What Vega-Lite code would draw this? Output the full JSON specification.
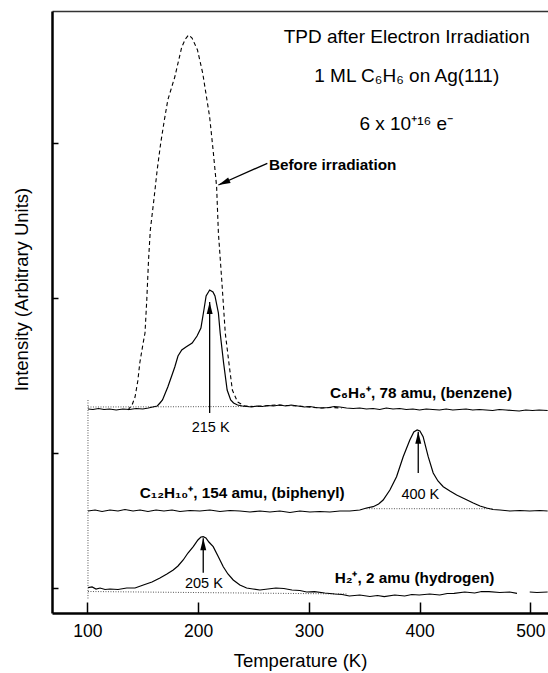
{
  "$schema": "https://vega.github.io/schema/vega-lite/v6.json",
  "width": 496,
  "height": 602,
  "autosize": {"type": "none"},
  "padding": {"left": 52, "top": 11, "right": 0, "bottom": 60},
  "background": "white",
  "config": {
    "view": {"stroke": null},
    "font": "Liberation Sans",
    "axis": {"labelFont": "Liberation Sans", "titleFont": "Liberation Sans", "labelColor": "black", "titleColor": "black", "domainColor": "black", "tickColor": "black", "grid": false}
  },
  "resolve": {"axis": {"x": "independent", "y": "independent"}},
  "datasets": {
    "traces": [
      {"trace": "ref_v", "T": 100.5, "I": 213}, {"trace": "ref_v", "T": 100.5, "I": 13},
      {"trace": "ref_benzene", "T": 100.5, "I": 206}, {"trace": "ref_benzene", "T": 255, "I": 206.5},
      {"trace": "ref_biphenyl", "T": 352, "I": 104.3}, {"trace": "ref_biphenyl", "T": 466, "I": 104.3},
      {"trace": "ref_hydrogen", "T": 100.5, "I": 21.5}, {"trace": "ref_hydrogen", "T": 335, "I": 19},

      {"trace": "before", "T": 136.6, "I": 203}, {"trace": "before", "T": 140.3, "I": 208}, {"trace": "before", "T": 143, "I": 216},
      {"trace": "before", "T": 145.5, "I": 232}, {"trace": "before", "T": 147.3, "I": 250}, {"trace": "before", "T": 150, "I": 268},
      {"trace": "before", "T": 152, "I": 280}, {"trace": "before", "T": 153.6, "I": 313}, {"trace": "before", "T": 155.2, "I": 353},
      {"trace": "before", "T": 156.8, "I": 383}, {"trace": "before", "T": 160, "I": 413}, {"trace": "before", "T": 163, "I": 443},
      {"trace": "before", "T": 166.2, "I": 470}, {"trace": "before", "T": 169.5, "I": 493}, {"trace": "before", "T": 172.6, "I": 513},
      {"trace": "before", "T": 178.9, "I": 536}, {"trace": "before", "T": 185.2, "I": 566}, {"trace": "before", "T": 188.5, "I": 574},
      {"trace": "before", "T": 191.4, "I": 578}, {"trace": "before", "T": 194.5, "I": 575}, {"trace": "before", "T": 199.4, "I": 563},
      {"trace": "before", "T": 204.1, "I": 540}, {"trace": "before", "T": 210.4, "I": 496}, {"trace": "before", "T": 213.5, "I": 463},
      {"trace": "before", "T": 216.7, "I": 426}, {"trace": "before", "T": 218.3, "I": 380}, {"trace": "before", "T": 221.5, "I": 330},
      {"trace": "before", "T": 224.5, "I": 280}, {"trace": "before", "T": 227.8, "I": 250}, {"trace": "before", "T": 230.9, "I": 223},
      {"trace": "before", "T": 235.6, "I": 211}, {"trace": "before", "T": 241.9, "I": 207}, {"trace": "before", "T": 250, "I": 206.5},
      {"trace": "before", "T": 260, "I": 207}, {"trace": "before", "T": 270, "I": 208}, {"trace": "before", "T": 280, "I": 207.5},
      {"trace": "before", "T": 290, "I": 207}, {"trace": "before", "T": 300, "I": 206}, {"trace": "before", "T": 310, "I": 205},
      {"trace": "before", "T": 320, "I": 205.5}, {"trace": "before", "T": 330, "I": 205},

      {"trace": "benzene", "T": 100.5, "I": 204}, {"trace": "benzene", "T": 105, "I": 203.5}, {"trace": "benzene", "T": 110, "I": 204.5},
      {"trace": "benzene", "T": 115, "I": 203.5}, {"trace": "benzene", "T": 120, "I": 204}, {"trace": "benzene", "T": 126, "I": 203},
      {"trace": "benzene", "T": 132, "I": 204}, {"trace": "benzene", "T": 138, "I": 203.5}, {"trace": "benzene", "T": 144, "I": 204.5},
      {"trace": "benzene", "T": 150, "I": 204}, {"trace": "benzene", "T": 155, "I": 205}, {"trace": "benzene", "T": 159, "I": 206},
      {"trace": "benzene", "T": 163.1, "I": 207}, {"trace": "benzene", "T": 165.5, "I": 210}, {"trace": "benzene", "T": 167.8, "I": 213},
      {"trace": "benzene", "T": 170, "I": 219}, {"trace": "benzene", "T": 172.6, "I": 226}, {"trace": "benzene", "T": 176.4, "I": 238},
      {"trace": "benzene", "T": 178.9, "I": 246}, {"trace": "benzene", "T": 181.8, "I": 257}, {"trace": "benzene", "T": 185.2, "I": 263},
      {"trace": "benzene", "T": 189, "I": 266}, {"trace": "benzene", "T": 194.6, "I": 270}, {"trace": "benzene", "T": 199, "I": 277},
      {"trace": "benzene", "T": 202.5, "I": 285}, {"trace": "benzene", "T": 205.2, "I": 303}, {"trace": "benzene", "T": 207.2, "I": 317},
      {"trace": "benzene", "T": 210.4, "I": 323}, {"trace": "benzene", "T": 213.4, "I": 321}, {"trace": "benzene", "T": 215.2, "I": 317},
      {"trace": "benzene", "T": 218.3, "I": 300}, {"trace": "benzene", "T": 219.9, "I": 280}, {"trace": "benzene", "T": 223, "I": 250},
      {"trace": "benzene", "T": 226.2, "I": 223}, {"trace": "benzene", "T": 229.4, "I": 213}, {"trace": "benzene", "T": 232, "I": 210},
      {"trace": "benzene", "T": 235.6, "I": 208}, {"trace": "benzene", "T": 240, "I": 207}, {"trace": "benzene", "T": 244, "I": 206.5},
      {"trace": "benzene", "T": 248.3, "I": 206}, {"trace": "benzene", "T": 253, "I": 207}, {"trace": "benzene", "T": 258, "I": 206.5},
      {"trace": "benzene", "T": 263, "I": 207.5}, {"trace": "benzene", "T": 268, "I": 207}, {"trace": "benzene", "T": 273.8, "I": 208},
      {"trace": "benzene", "T": 279, "I": 207}, {"trace": "benzene", "T": 284, "I": 208}, {"trace": "benzene", "T": 290, "I": 207},
      {"trace": "benzene", "T": 296, "I": 206}, {"trace": "benzene", "T": 301, "I": 206.5}, {"trace": "benzene", "T": 306, "I": 205.5},
      {"trace": "benzene", "T": 312, "I": 205}, {"trace": "benzene", "T": 318, "I": 205.5}, {"trace": "benzene", "T": 323, "I": 206.5},
      {"trace": "benzene", "T": 328, "I": 206}, {"trace": "benzene", "T": 334, "I": 205}, {"trace": "benzene", "T": 340, "I": 204.5},
      {"trace": "benzene", "T": 346, "I": 205}, {"trace": "benzene", "T": 352, "I": 204}, {"trace": "benzene", "T": 358, "I": 204.5},
      {"trace": "benzene", "T": 364, "I": 203.5}, {"trace": "benzene", "T": 370, "I": 205}, {"trace": "benzene", "T": 376, "I": 204},
      {"trace": "benzene", "T": 382, "I": 204.5}, {"trace": "benzene", "T": 388, "I": 203.5}, {"trace": "benzene", "T": 394, "I": 204},
      {"trace": "benzene", "T": 400, "I": 203}, {"trace": "benzene", "T": 406, "I": 204}, {"trace": "benzene", "T": 412, "I": 203.5},
      {"trace": "benzene", "T": 418, "I": 203}, {"trace": "benzene", "T": 424, "I": 204}, {"trace": "benzene", "T": 430, "I": 203},
      {"trace": "benzene", "T": 436, "I": 203.5}, {"trace": "benzene", "T": 442, "I": 204}, {"trace": "benzene", "T": 448, "I": 203},
      {"trace": "benzene", "T": 454, "I": 203.5}, {"trace": "benzene", "T": 460, "I": 203}, {"trace": "benzene", "T": 466, "I": 202.5},
      {"trace": "benzene", "T": 472, "I": 203.5}, {"trace": "benzene", "T": 478, "I": 203}, {"trace": "benzene", "T": 484, "I": 202.5},
      {"trace": "benzene", "T": 490, "I": 202}, {"trace": "benzene", "T": 496, "I": 203}, {"trace": "benzene", "T": 502, "I": 202.5},
      {"trace": "benzene", "T": 508, "I": 203}, {"trace": "benzene", "T": 515.7, "I": 202.5},

      {"trace": "biphenyl", "T": 100.5, "I": 102}, {"trace": "biphenyl", "T": 106.9, "I": 103}, {"trace": "biphenyl", "T": 113.2, "I": 101.5},
      {"trace": "biphenyl", "T": 120.4, "I": 103}, {"trace": "biphenyl", "T": 127.6, "I": 102}, {"trace": "biphenyl", "T": 133.9, "I": 103.5},
      {"trace": "biphenyl", "T": 141.2, "I": 102}, {"trace": "biphenyl", "T": 147.5, "I": 103}, {"trace": "biphenyl", "T": 154.7, "I": 101.5},
      {"trace": "biphenyl", "T": 162, "I": 103}, {"trace": "biphenyl", "T": 169.1, "I": 102}, {"trace": "biphenyl", "T": 176.4, "I": 103},
      {"trace": "biphenyl", "T": 183.6, "I": 101.5}, {"trace": "biphenyl", "T": 192.6, "I": 102.5}, {"trace": "biphenyl", "T": 201.6, "I": 102},
      {"trace": "biphenyl", "T": 210.6, "I": 103}, {"trace": "biphenyl", "T": 219.7, "I": 101.5}, {"trace": "biphenyl", "T": 228.7, "I": 102.5},
      {"trace": "biphenyl", "T": 237.7, "I": 102}, {"trace": "biphenyl", "T": 246.8, "I": 101}, {"trace": "biphenyl", "T": 255.8, "I": 102},
      {"trace": "biphenyl", "T": 264.8, "I": 101}, {"trace": "biphenyl", "T": 273.8, "I": 102}, {"trace": "biphenyl", "T": 282.9, "I": 100.5},
      {"trace": "biphenyl", "T": 291.9, "I": 102}, {"trace": "biphenyl", "T": 300.9, "I": 101}, {"trace": "biphenyl", "T": 309.9, "I": 101.5},
      {"trace": "biphenyl", "T": 319, "I": 101}, {"trace": "biphenyl", "T": 328, "I": 102}, {"trace": "biphenyl", "T": 337, "I": 102},
      {"trace": "biphenyl", "T": 346, "I": 103}, {"trace": "biphenyl", "T": 352.1, "I": 105}, {"trace": "biphenyl", "T": 358.1, "I": 106.3},
      {"trace": "biphenyl", "T": 363, "I": 109}, {"trace": "biphenyl", "T": 367.1, "I": 113}, {"trace": "biphenyl", "T": 373.2, "I": 123},
      {"trace": "biphenyl", "T": 379.2, "I": 136.3}, {"trace": "biphenyl", "T": 385.2, "I": 156.3}, {"trace": "biphenyl", "T": 391.2, "I": 173},
      {"trace": "biphenyl", "T": 394.8, "I": 181}, {"trace": "biphenyl", "T": 397.8, "I": 183}, {"trace": "biphenyl", "T": 400.3, "I": 182},
      {"trace": "biphenyl", "T": 403.2, "I": 176.3}, {"trace": "biphenyl", "T": 407.8, "I": 156.3}, {"trace": "biphenyl", "T": 412.3, "I": 140},
      {"trace": "biphenyl", "T": 416.6, "I": 132}, {"trace": "biphenyl", "T": 421.4, "I": 126.3}, {"trace": "biphenyl", "T": 427.4, "I": 122},
      {"trace": "biphenyl", "T": 433.5, "I": 118}, {"trace": "biphenyl", "T": 441, "I": 114}, {"trace": "biphenyl", "T": 448.5, "I": 110},
      {"trace": "biphenyl", "T": 454.6, "I": 107}, {"trace": "biphenyl", "T": 460.6, "I": 105}, {"trace": "biphenyl", "T": 466.3, "I": 103.5},
      {"trace": "biphenyl", "T": 472.6, "I": 103}, {"trace": "biphenyl", "T": 481.6, "I": 102}, {"trace": "biphenyl", "T": 490.6, "I": 102.5},
      {"trace": "biphenyl", "T": 499.5, "I": 102}, {"trace": "biphenyl", "T": 508.5, "I": 102.5}, {"trace": "biphenyl", "T": 515.7, "I": 102},

      {"trace": "hydrogen", "T": 100.6, "I": 25.3}, {"trace": "hydrogen", "T": 104.2, "I": 26}, {"trace": "hydrogen", "T": 107.8, "I": 24},
      {"trace": "hydrogen", "T": 111.4, "I": 25}, {"trace": "hydrogen", "T": 115.9, "I": 23.5}, {"trace": "hydrogen", "T": 120.4, "I": 24},
      {"trace": "hydrogen", "T": 127.6, "I": 23.5}, {"trace": "hydrogen", "T": 135.5, "I": 25}, {"trace": "hydrogen", "T": 143, "I": 25},
      {"trace": "hydrogen", "T": 150.5, "I": 28}, {"trace": "hydrogen", "T": 158.3, "I": 31}, {"trace": "hydrogen", "T": 165.5, "I": 35},
      {"trace": "hydrogen", "T": 171.8, "I": 39}, {"trace": "hydrogen", "T": 177.5, "I": 43}, {"trace": "hydrogen", "T": 181.8, "I": 47},
      {"trace": "hydrogen", "T": 186.5, "I": 53}, {"trace": "hydrogen", "T": 190.8, "I": 60}, {"trace": "hydrogen", "T": 195.6, "I": 66.3},
      {"trace": "hydrogen", "T": 199.8, "I": 73}, {"trace": "hydrogen", "T": 202.5, "I": 76}, {"trace": "hydrogen", "T": 204.6, "I": 76.3},
      {"trace": "hydrogen", "T": 207, "I": 75}, {"trace": "hydrogen", "T": 209.7, "I": 71}, {"trace": "hydrogen", "T": 213.6, "I": 66.3},
      {"trace": "hydrogen", "T": 217.9, "I": 57}, {"trace": "hydrogen", "T": 222.7, "I": 46.3}, {"trace": "hydrogen", "T": 226.9, "I": 39},
      {"trace": "hydrogen", "T": 231.7, "I": 33}, {"trace": "hydrogen", "T": 237.7, "I": 28}, {"trace": "hydrogen", "T": 243.8, "I": 25},
      {"trace": "hydrogen", "T": 249.5, "I": 24}, {"trace": "hydrogen", "T": 255.8, "I": 23}, {"trace": "hydrogen", "T": 263, "I": 24},
      {"trace": "hydrogen", "T": 270.2, "I": 25}, {"trace": "hydrogen", "T": 277.4, "I": 24.5}, {"trace": "hydrogen", "T": 284.7, "I": 23},
      {"trace": "hydrogen", "T": 291.9, "I": 22.5}, {"trace": "hydrogen", "T": 298, "I": 21}, {"trace": "hydrogen", "T": 305.1, "I": 21.3},
      {"trace": "hydrogen", "T": 314.4, "I": 20}, {"trace": "hydrogen", "T": 323.5, "I": 19}, {"trace": "hydrogen", "T": 330, "I": 18.5},
      {"trace": "hydrogen", "T": 336.6, "I": 17}, {"trace": "hydrogen", "T": 346, "I": 18}, {"trace": "hydrogen", "T": 355.1, "I": 16.5},
      {"trace": "hydrogen", "T": 362, "I": 17.5}, {"trace": "hydrogen", "T": 368.1, "I": 16.3}, {"trace": "hydrogen", "T": 377.6, "I": 18},
      {"trace": "hydrogen", "T": 386.6, "I": 17}, {"trace": "hydrogen", "T": 393, "I": 18.5}, {"trace": "hydrogen", "T": 399.7, "I": 18},
      {"trace": "hydrogen", "T": 409.2, "I": 19}, {"trace": "hydrogen", "T": 418.2, "I": 18}, {"trace": "hydrogen", "T": 425, "I": 19.5},
      {"trace": "hydrogen", "T": 431.2, "I": 19.7}, {"trace": "hydrogen", "T": 440.8, "I": 21}, {"trace": "hydrogen", "T": 449.8, "I": 20},
      {"trace": "hydrogen", "T": 456, "I": 21.5}, {"trace": "hydrogen", "T": 462.7, "I": 21.3}, {"trace": "hydrogen", "T": 472.4, "I": 20.5},
      {"trace": "hydrogen", "T": 481.4, "I": 21}, {"trace": "hydrogen", "T": 488, "I": 19.7},
      {"trace": "hydrogen2", "T": 499.5, "I": 21}, {"trace": "hydrogen2", "T": 506, "I": 20.5}, {"trace": "hydrogen2", "T": 515.7, "I": 21}
    ],
    "arrows": [
      {"label": "215 K", "T": 210.4, "base": 200, "tip": 311},
      {"label": "400 K", "T": 398.8, "base": 140, "tip": 181.3},
      {"label": "205 K", "T": 204.6, "base": 40.3, "tip": 74.7}
    ],
    "pointer": [
      {"label": "Before irradiation", "T": 262.5, "I": 449.7, "T2": 218.3, "I2": 428}
    ],
    "titles": [
      {"label": "TPD after Electron Irradiation", "T": 388.4, "I": 576.3},
      {"label": "1 ML C₆H₆ on Ag(111)", "T": 388.4, "I": 537},
      {"label": "6 x 10⁺¹⁶ e⁻", "T": 388, "I": 489.5}
    ],
    "klabels": [
      {"label": "215 K", "T": 211.3, "I": 185},
      {"label": "400 K", "T": 400.7, "I": 118},
      {"label": "205 K", "T": 205.2, "I": 29}
    ],
    "blabels": [
      {"label": "Before irradiation", "T": 263.9, "I": 448},
      {"label": "C₆H₆⁺, 78 amu, (benzene)", "T": 319, "I": 220},
      {"label": "C₁₂H₁₀⁺, 154 amu, (biphenyl)", "T": 147.3, "I": 120},
      {"label": "H₂⁺, 2 amu (hydrogen)", "T": 323.3, "I": 35}
    ]
  },
  "layer": [
    {
      "data": {"name": "traces"},
      "transform": [{"filter": {"field": "trace", "oneOf": ["ref_v", "ref_benzene", "ref_biphenyl", "ref_hydrogen"]}}],
      "mark": {"type": "line", "color": "#555", "strokeWidth": 1, "strokeDash": [1, 1.5]},
      "encoding": {
        "x": {"field": "T", "type": "quantitative", "scale": {"domain": [68, 516], "nice": false, "zero": false},
              "axis": {"orient": "top", "labels": false, "ticks": false, "title": null, "domainColor": "#333", "domainWidth": 1.5}},
        "y": {"field": "I", "type": "quantitative", "scale": {"domain": [0, 602], "nice": false, "zero": false}, "axis": null},
        "detail": {"field": "trace"}
      }
    },
    {
      "data": {"name": "traces"},
      "transform": [{"filter": {"field": "trace", "equal": "before"}}],
      "mark": {"type": "line", "color": "black", "strokeWidth": 1.1, "strokeDash": [4, 3]},
      "encoding": {
        "x": {"field": "T", "type": "quantitative", "scale": {"domain": [68, 516], "nice": false, "zero": false}, "axis": null},
        "y": {"field": "I", "type": "quantitative", "scale": {"domain": [0, 602], "nice": false, "zero": false}, "axis": null}
      }
    },
    {
      "data": {"name": "traces"},
      "transform": [{"filter": {"field": "trace", "oneOf": ["benzene", "biphenyl", "hydrogen", "hydrogen2"]}}],
      "mark": {"type": "line", "color": "black", "strokeWidth": 1.2},
      "encoding": {
        "x": {"field": "T", "type": "quantitative", "scale": {"domain": [68, 516], "nice": false, "zero": false},
              "axis": {"orient": "bottom", "values": [100, 200, 300, 400, 500], "tickSize": -11, "tickWidth": 1.5, "domainWidth": 2.5,
                       "labelFontSize": 17.5, "labelPadding": 20, "labelFlush": false, "title": "Temperature (K)", "titleFontSize": 18.5,
                       "titleFontWeight": "normal", "titlePadding": 12}},
        "y": {"field": "I", "type": "quantitative", "scale": {"domain": [0, 602], "nice": false, "zero": false},
              "axis": {"orient": "left", "values": [25, 160, 315, 470], "labels": false, "tickSize": -6, "tickWidth": 1.5, "domainWidth": 2.5,
                       "title": "Intensity (Arbitrary Units)", "titleFontSize": 18.5, "titleFontWeight": "normal", "titlePadding": 20, "titleY": 278}},
        "detail": {"field": "trace"}
      }
    },
    {
      "data": {"name": "arrows"},
      "mark": {"type": "rule", "color": "black", "strokeWidth": 1.3},
      "encoding": {
        "x": {"field": "T", "type": "quantitative", "scale": {"domain": [68, 516], "nice": false, "zero": false}, "axis": null},
        "y": {"field": "base", "type": "quantitative", "scale": {"domain": [0, 602], "nice": false, "zero": false}, "axis": null},
        "y2": {"field": "tip"}
      }
    },
    {
      "data": {"name": "arrows"},
      "mark": {"type": "point", "shape": "M0,-1L0.5,1L-0.5,1Z", "filled": true, "color": "black", "opacity": 1, "size": 144, "yOffset": 6},
      "encoding": {
        "x": {"field": "T", "type": "quantitative", "scale": {"domain": [68, 516], "nice": false, "zero": false}, "axis": null},
        "y": {"field": "tip", "type": "quantitative", "scale": {"domain": [0, 602], "nice": false, "zero": false}, "axis": null}
      }
    },
    {
      "data": {"name": "pointer"},
      "mark": {"type": "rule", "color": "black", "strokeWidth": 1.3},
      "encoding": {
        "x": {"field": "T", "type": "quantitative", "scale": {"domain": [68, 516], "nice": false, "zero": false}, "axis": null},
        "y": {"field": "I", "type": "quantitative", "scale": {"domain": [0, 602], "nice": false, "zero": false}, "axis": null},
        "x2": {"field": "T2"},
        "y2": {"field": "I2"}
      }
    },
    {
      "data": {"name": "pointer"},
      "mark": {"type": "point", "shape": "M0,-1L0.5,1L-0.5,1Z", "filled": true, "color": "black", "opacity": 1, "size": 144, "angle": 246, "xOffset": 5.5, "yOffset": -2.4},
      "encoding": {
        "x": {"field": "T2", "type": "quantitative", "scale": {"domain": [68, 516], "nice": false, "zero": false}, "axis": null},
        "y": {"field": "I2", "type": "quantitative", "scale": {"domain": [0, 602], "nice": false, "zero": false}, "axis": null}
      }
    },
    {
      "data": {"name": "titles"},
      "mark": {"type": "text", "font": "Liberation Sans", "fontSize": 19, "align": "center", "baseline": "middle", "color": "black"},
      "encoding": {
        "x": {"field": "T", "type": "quantitative", "scale": {"domain": [68, 516], "nice": false, "zero": false}, "axis": null},
        "y": {"field": "I", "type": "quantitative", "scale": {"domain": [0, 602], "nice": false, "zero": false}, "axis": null},
        "text": {"field": "label"}
      }
    },
    {
      "data": {"name": "klabels"},
      "mark": {"type": "text", "font": "Liberation Sans", "fontSize": 14.5, "align": "center", "baseline": "middle", "color": "black"},
      "encoding": {
        "x": {"field": "T", "type": "quantitative", "scale": {"domain": [68, 516], "nice": false, "zero": false}, "axis": null},
        "y": {"field": "I", "type": "quantitative", "scale": {"domain": [0, 602], "nice": false, "zero": false}, "axis": null},
        "text": {"field": "label"}
      }
    },
    {
      "data": {"name": "blabels"},
      "mark": {"type": "text", "font": "Liberation Sans", "fontSize": 15.3, "fontWeight": "bold", "align": "left", "baseline": "middle", "color": "black"},
      "encoding": {
        "x": {"field": "T", "type": "quantitative", "scale": {"domain": [68, 516], "nice": false, "zero": false}, "axis": null},
        "y": {"field": "I", "type": "quantitative", "scale": {"domain": [0, 602], "nice": false, "zero": false}, "axis": null},
        "text": {"field": "label"}
      }
    }
  ]
}
